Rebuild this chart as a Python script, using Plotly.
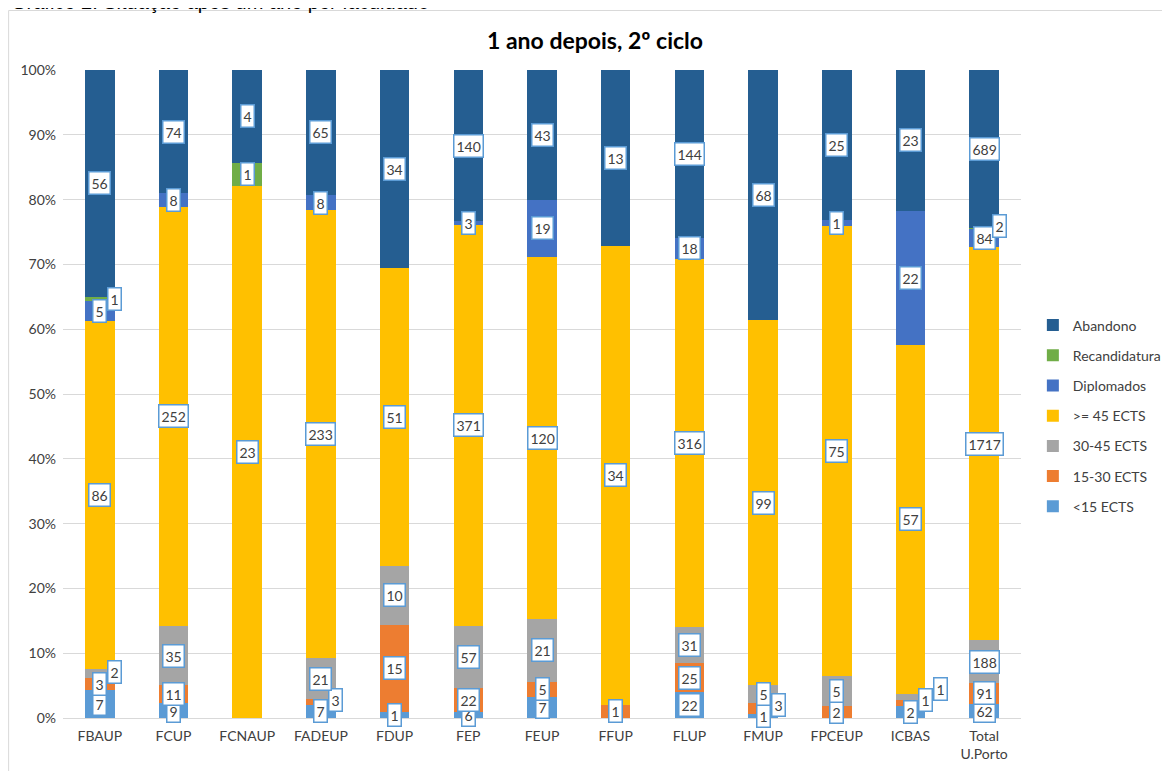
import plotly.graph_objects as go

# Categories (faculties) and counts per situation, bottom -> top of each stack
categories = ["FBAUP", "FCUP", "FCNAUP", "FADEUP", "FDUP", "FEP", "FEUP",
              "FFUP", "FLUP", "FMUP", "FPCEUP", "ICBAS", "Total<br>U.Porto"]
lt_15 = [7, 9, 0, 7, 1, 6, 7, 0, 22, 1, 0, 2, 62]
ects_15_30 = [3, 11, 0, 3, 15, 22, 5, 1, 25, 3, 2, 1, 91]
ects_30_45 = [2, 35, 0, 21, 10, 57, 21, 0, 31, 5, 5, 1, 188]
ge_45 = [86, 252, 23, 233, 51, 371, 120, 34, 316, 99, 75, 57, 1717]
diplomados = [5, 8, 0, 8, 0, 3, 19, 0, 18, 0, 1, 22, 84]
recandidatura = [1, 0, 1, 0, 0, 0, 0, 0, 0, 0, 0, 0, 2]
abandono = [56, 74, 4, 65, 34, 140, 43, 13, 144, 68, 25, 23, 689]

series = [
    ("<15 ECTS", lt_15, "#5B9BD5"),
    ("15-30 ECTS", ects_15_30, "#ED7D31"),
    ("30-45 ECTS", ects_30_45, "#A5A5A5"),
    (">= 45 ECTS", ge_45, "#FFC000"),
    ("Diplomados", diplomados, "#4472C4"),
    ("Recandidatura", recandidatura, "#70AD47"),
    ("Abandono", abandono, "#255E91"),
]

FONT = "Lato, Calibri, Arial, sans-serif"
W, H = 1170, 771
OFF = 8  # default body margin of the html page
# plot area in page pixels: x 63..1032, y 70..718
L, T = 63 - OFF, 70 - OFF
R = W - 1032 + OFF
B = H - 718 + OFF
plot_h = H - T - B
plot_w = W - L - R


def px_x(px):
    # page pixel -> paper x
    return (px - OFF - L) / plot_w


def px_y(py):
    # page pixel -> paper y
    return (H - B - (py - OFF)) / plot_h


fig = go.Figure()
for k, (name, values, color) in enumerate(series):
    fig.add_trace(
        go.Bar(
            x=categories,
            y=values,
            name=name,
            marker=dict(color=color, line=dict(width=0)),
            legendgroup=name,
            legendrank=len(series) - k,
            hoverinfo="skip",
        )
    )

# Value labels: boxed counts at segment midpoints, nudged when they collide
annotations = []
totals = [sum(s[1][i] for s in series) for i in range(len(categories))]
min_gap = 1.8  # percent
for i, cat in enumerate(categories):
    base = 0.0
    prev_mid = None
    prev_y = None
    shift = 0
    for name, values, color in series:
        v = values[i]
        pct = 100.0 * v / totals[i]
        if v > 0:
            mid = base + pct / 2
            y = mid
            if prev_mid is not None and mid - prev_mid < 2.0:
                y = max(mid, prev_y + min_gap)
                shift += 15
            else:
                shift = 0
            annotations.append(
                dict(
                    x=cat, y=y, text=str(v), showarrow=False,
                    xshift=shift,
                    font=dict(family=FONT, size=14, color="#404040"),
                    bgcolor="white", bordercolor="#5B9BD5",
                    borderwidth=1.5, borderpad=2,
                )
            )
            prev_mid = mid
            prev_y = y
        base += pct

# Page caption above the chart frame (clipped by the top of the picture)
annotations.append(
    dict(
        x=px_x(8), y=px_y(2), xref="paper", yref="paper",
        xanchor="left", yanchor="middle", showarrow=False,
        text="Gráfico 2: Situação após um ano por faculdade",
        font=dict(family="Liberation Sans, Arial", size=20, color="black"),
    )
)

fig.update_layout(
    width=W,
    height=H,
    margin=dict(l=L, r=R, t=T, b=B),
    paper_bgcolor="white",
    plot_bgcolor="white",
    barmode="stack",
    barnorm="percent",
    bargap=0.6,
    title=dict(
        text="1 ano depois, 2º ciclo",
        x=(595 - OFF) / W, xanchor="center",
        y=1 - (41 - OFF) / H, yanchor="middle",
        font=dict(family=FONT, size=23, color="#000000", weight="bold"),
    ),
    font=dict(family=FONT, size=14, color="#404040"),
    xaxis=dict(
        type="category",
        showgrid=False,
        showline=False,
        ticks="",
        ticklabelstandoff=8,
        tickfont=dict(size=14, color="#404040"),
    ),
    yaxis=dict(
        range=[0, 100],
        dtick=10,
        ticksuffix="%",
        showgrid=True,
        gridcolor="#D9D9D9",
        gridwidth=1,
        zeroline=True,
        zerolinecolor="#D9D9D9",
        zerolinewidth=1,
        showline=False,
        ticks="",
        ticklabelstandoff=6,
        tickfont=dict(size=14, color="#404040"),
    ),
    legend=dict(
        x=px_x(1044), xanchor="left",
        y=px_y(416), yanchor="middle",
        traceorder="grouped",
        tracegroupgap=9,
        font=dict(family=FONT, size=14, color="#404040"),
        itemwidth=30,
    ),
    annotations=annotations,
    shapes=[
        dict(
            type="rect", xref="paper", yref="paper",
            x0=px_x(8), x1=px_x(W + 20), y0=px_y(H + 20), y1=px_y(10.5),
            line=dict(color="#D9D9D9", width=1), fillcolor="rgba(0,0,0,0)",
            layer="below",
        )
    ],
)

fig.write_html("out.html")
